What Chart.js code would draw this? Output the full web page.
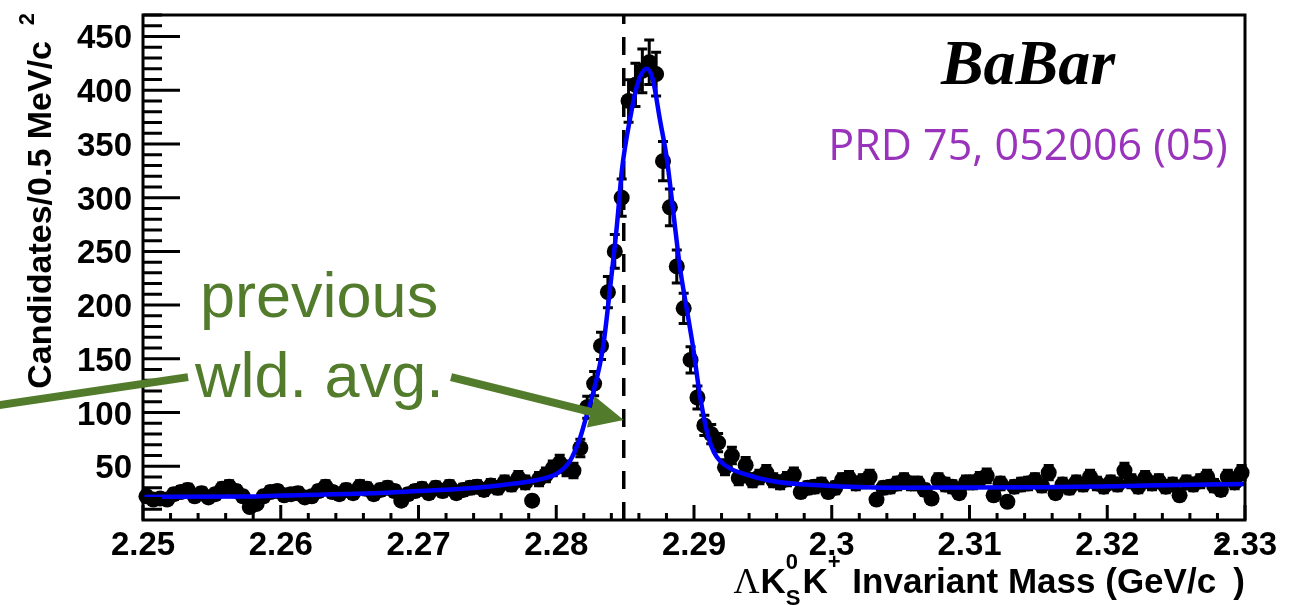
<!DOCTYPE html>
<html>
<head>
<meta charset="utf-8">
<script src="https://cdn.jsdelivr.net/npm/chart.js@4.4.1/dist/chart.umd.min.js"></script>
<style>
  html, body { margin: 0; padding: 0; background: #ffffff; }
  #wrap { width: 1306px; height: 605px; position: relative; }
</style>
</head>
<body>
<div id="wrap"><canvas id="c" width="1306" height="605"></canvas></div>
<script>
// Histogram: Lambda K0S K+ invariant mass, 0.5 MeV/c^2 bins from 2.25 to 2.33 GeV/c^2
const binStart = 2.25;
const binWidth = 0.0005;
const counts = [
  22, 19, 20, 19, 24, 26, 28, 22, 25, 21,
  24, 29, 31, 27, 22, 12, 15, 22, 26, 27,
  23, 24, 25, 21, 22, 27, 31, 26, 24, 28,
  25, 31, 29, 24, 28, 30, 27, 18, 24, 27,
  29, 25, 30, 27, 31, 25, 28, 30, 31, 28,
  32, 30, 35, 33, 39, 35, 18, 38, 42, 48,
  53, 48, 46, 67, 105, 127, 162, 212, 250, 300,
  390, 405, 418, 426, 415, 334, 291, 236, 197, 149,
  114, 88, 80, 72, 49, 60, 39, 51, 37, 40,
  44, 37, 35, 38, 42, 26, 30, 31, 33, 26,
  30, 37, 39, 34, 36, 40, 19, 30, 31, 34,
  37, 34, 34, 28, 20, 37, 33, 31, 25, 35,
  35, 38, 41, 23, 34, 17, 31, 33, 34, 37,
  32, 44, 25, 33, 30, 35, 33, 40, 34, 31,
  35, 33, 46, 36, 31, 39, 34, 36, 31, 33,
  23, 35, 33, 36, 40, 32, 28, 40, 35, 44
];

// Fitted signal + background curve, sampled along the mass axis
const fitMass = [
  2.2500, 2.2575, 2.2600, 2.2665, 2.2690, 2.2737, 2.2761, 2.2786, 2.2801, 2.2810,
  2.28172, 2.28209, 2.28267, 2.28340, 2.28390, 2.28441, 2.28477, 2.28535, 2.28593, 2.28656,
  2.28701, 2.28752, 2.28803, 2.28862, 2.28898, 2.28949, 2.28993, 2.29044, 2.29102, 2.29145,
  2.29189, 2.29261, 2.29334, 2.29573, 2.29936, 2.30423, 2.31512, 2.32289, 2.3300
];
const fitValue = [
  21.5, 21.8, 22.8, 24.8, 26.4, 29.5, 32.6, 37.2, 43.6, 55,
  76, 92, 118, 161, 215, 275, 326, 373, 407, 420,
  410, 373, 336, 273, 235, 195, 161, 115, 78, 63,
  55, 48, 44, 36, 32, 30, 30.5, 32, 33.5
];

// Previous world average of the Lambda_c+ mass
const prevWorldAvg = 2.2849;

// Axis ticks
const xTickValues = [2.25, 2.26, 2.27, 2.28, 2.29, 2.30, 2.31, 2.32, 2.33];
const xTickLabels = ['2.25', '2.26', '2.27', '2.28', '2.29', '2.3', '2.31', '2.32', '2.33'];
const xMinorStep = 0.002;
const yTickValues = [50, 100, 150, 200, 250, 300, 350, 400, 450];
const yTickLabels = ['50', '100', '150', '200', '250', '300', '350', '400', '450'];
const yMinorStep = 10;

const SANS = '"Liberation Sans", Arial, Helvetica, sans-serif';
const SERIF = '"Liberation Serif", "Times New Roman", serif';
const GREEN = '#527c2c';
const PURPLE = 'rgb(153, 51, 187)';

const points = counts.map((n, i) => ({ x: binStart + (i + 0.5) * binWidth, y: n }));
const fitPoints = fitMass.map((m, i) => ({ x: m, y: fitValue[i] }));

// Draws a row of text pieces (with super/subscripts) ending at xRight
function drawRich(ctx, runs, xRight, baseline) {
  let total = 0;
  runs.forEach(r => {
    ctx.font = r.font;
    r.w = r.stack
      ? Math.max(ctx.measureText(r.sup).width, ctx.measureText(r.sub).width)
      : ctx.measureText(r.text).width;
    total += r.w + (r.gap || 0);
  });
  let x = xRight - total;
  ctx.textAlign = 'left';
  ctx.textBaseline = 'alphabetic';
  runs.forEach(r => {
    ctx.font = r.font;
    if (r.stack) {
      ctx.fillText(r.sup, x, baseline + r.supDy);
      ctx.fillText(r.sub, x, baseline + r.subDy);
    } else {
      ctx.fillText(r.text, x, baseline + (r.dy || 0));
    }
    x += r.w + (r.gap || 0);
  });
}

const histPlugin = {
  id: 'histDecor',
  beforeDatasetsDraw(chart) {
    const ctx = chart.ctx;
    const xs = chart.scales.x, ys = chart.scales.y;
    const area = chart.chartArea;
    // dashed marker at the previous world average
    ctx.save();
    ctx.strokeStyle = '#000';
    ctx.lineWidth = 3.5;
    ctx.setLineDash([18, 13]);
    const xd = xs.getPixelForValue(prevWorldAvg);
    ctx.beginPath();
    ctx.moveTo(xd, area.bottom);
    ctx.lineTo(xd, area.top);
    ctx.stroke();
    ctx.restore();
    // statistical error bars
    ctx.save();
    ctx.strokeStyle = '#000';
    ctx.lineWidth = 3;
    points.forEach(p => {
      const err = Math.sqrt(p.y);
      const x = xs.getPixelForValue(p.x);
      const yTop = ys.getPixelForValue(p.y + err);
      const yBot = ys.getPixelForValue(p.y - err);
      ctx.beginPath();
      ctx.moveTo(x, yTop); ctx.lineTo(x, yBot);
      ctx.moveTo(x - 5, yTop); ctx.lineTo(x + 5, yTop);
      ctx.moveTo(x - 5, yBot); ctx.lineTo(x + 5, yBot);
      ctx.stroke();
    });
    ctx.restore();
  },
  afterDraw(chart) {
    const ctx = chart.ctx;
    const xs = chart.scales.x, ys = chart.scales.y;
    const a = chart.chartArea;
    ctx.save();
    ctx.strokeStyle = '#000';
    ctx.fillStyle = '#000';
    ctx.lineWidth = 3;
    // frame
    ctx.strokeRect(a.left, a.top, a.right - a.left, a.bottom - a.top);
    // x ticks (inward from bottom)
    ctx.beginPath();
    const nx = Math.round((xs.max - xs.min) / xMinorStep);
    for (let k = 0; k <= nx; k++) {
      const x = xs.getPixelForValue(xs.min + k * xMinorStep);
      ctx.moveTo(x, a.bottom);
      ctx.lineTo(x, a.bottom - (k % 5 === 0 ? 15 : 7));
    }
    // y ticks (inward from left)
    const ny = Math.floor(ys.max / yMinorStep);
    for (let k = 1; k <= ny; k++) {
      const v = k * yMinorStep;
      const y = ys.getPixelForValue(v);
      ctx.moveTo(a.left, y);
      ctx.lineTo(a.left + (v % 50 === 0 ? 37 : 19), y);
    }
    ctx.stroke();

    // tick labels
    ctx.font = 'bold 33px ' + SANS;
    ctx.textBaseline = 'alphabetic';
    ctx.textAlign = 'center';
    xTickValues.forEach((v, i) => {
      ctx.fillText(xTickLabels[i], xs.getPixelForValue(v), 555);
    });
    ctx.textAlign = 'right';
    yTickValues.forEach((v, i) => {
      ctx.fillText(yTickLabels[i], 132, ys.getPixelForValue(v) + 12);
    });

    // y axis title (rotated, aligned to the top end)
    ctx.save();
    ctx.translate(51, 13);
    ctx.rotate(-Math.PI / 2);
    ctx.textBaseline = 'alphabetic';
    ctx.textAlign = 'right';
    ctx.font = 'bold 22px ' + SANS;
    ctx.fillText('2', 0, -17);
    ctx.font = 'bold 34px ' + SANS;
    ctx.fillText('Candidates/0.5 MeV/c', -28, 0);
    ctx.restore();

    // x axis title
    const B = 'bold 35px ' + SANS;
    const S = 'bold 22px ' + SANS;
    drawRich(ctx, [
      { text: '\u039B', font: '36px ' + SERIF, gap: 1 },
      { text: 'K', font: B },
      { stack: true, sup: '0', sub: 'S', font: S, supDy: -24, subDy: 12, gap: 2 },
      { text: 'K', font: B },
      { text: '+', font: S, dy: -24, gap: 2 },
      { text: ' Invariant Mass (GeV/c', font: B },
      { text: '2', font: S, dy: -40, gap: 5 },
      { text: ')', font: B }
    ], a.right, 593);

    // experiment label and reference
    ctx.textAlign = 'center';
    ctx.fillStyle = '#000';
    ctx.font = 'italic bold 64px ' + SERIF;
    ctx.fillText('BaBar', xs.getPixelForValue(2.31425), ys.getPixelForValue(406));
    ctx.fillStyle = PURPLE;
    ctx.font = '43px "Open Sans", ' + SANS;
    ctx.fillText('PRD 75, 052006 (05)', xs.getPixelForValue(2.31425), ys.getPixelForValue(335));

    // annotation for the previous world average
    ctx.fillStyle = GREEN;
    ctx.strokeStyle = GREEN;
    ctx.textAlign = 'left';
    ctx.font = '63px ' + SANS;
    ctx.fillText('previous', xs.getPixelForValue(2.25414), ys.getPixelForValue(189));
    ctx.fillText('wld. avg.', xs.getPixelForValue(2.25378), ys.getPixelForValue(114.5));

    ctx.lineWidth = 8;
    ctx.lineCap = 'butt';
    ctx.setLineDash([]);
    // line leading off to the left
    ctx.beginPath();
    ctx.moveTo(xs.getPixelForValue(2.25327), ys.getPixelForValue(133));
    ctx.lineTo(xs.getPixelForValue(2.2367), ys.getPixelForValue(101.5));
    ctx.stroke();
    // arrow pointing at the dashed marker
    const x0 = xs.getPixelForValue(2.27236), y0 = ys.getPixelForValue(133);
    const x1 = xs.getPixelForValue(prevWorldAvg), y1 = ys.getPixelForValue(93);
    const dx = x1 - x0, dy = y1 - y0, len = Math.hypot(dx, dy);
    const ux = dx / len, uy = dy / len;
    const headLen = 34, headHalf = 16;
    const bx = x1 - ux * headLen, by = y1 - uy * headLen;
    ctx.beginPath();
    ctx.moveTo(x0, y0);
    ctx.lineTo(bx + ux * 2, by + uy * 2);
    ctx.stroke();
    ctx.beginPath();
    ctx.moveTo(x1, y1);
    ctx.lineTo(bx - uy * headHalf, by + ux * headHalf);
    ctx.lineTo(bx + uy * headHalf, by - ux * headHalf);
    ctx.closePath();
    ctx.fill();
    ctx.restore();
  }
};

const chart = new Chart(document.getElementById('c').getContext('2d'), {
  type: 'scatter',
  data: {
    datasets: [
      {
        type: 'line',
        data: fitPoints,
        borderColor: '#0000ff',
        borderWidth: 4.5,
        pointRadius: 0,
        fill: false,
        cubicInterpolationMode: 'monotone',
        order: 0
      },
      {
        type: 'scatter',
        data: points,
        pointRadius: 8,
        pointBackgroundColor: '#000',
        pointBorderColor: '#000',
        pointBorderWidth: 0,
        clip: false,
        order: 1
      }
    ]
  },
  options: {
    responsive: false,
    animation: false,
    devicePixelRatio: 1,
    events: [],
    layout: { padding: { left: 143, right: 61, top: 15, bottom: 85 } },
    plugins: { legend: { display: false }, tooltip: { enabled: false } },
    scales: {
      x: { type: 'linear', min: 2.25, max: 2.33, display: false },
      y: { type: 'linear', min: 0, max: 470, display: false }
    }
  },
  plugins: [histPlugin]
});
</script>
</body>
</html>
